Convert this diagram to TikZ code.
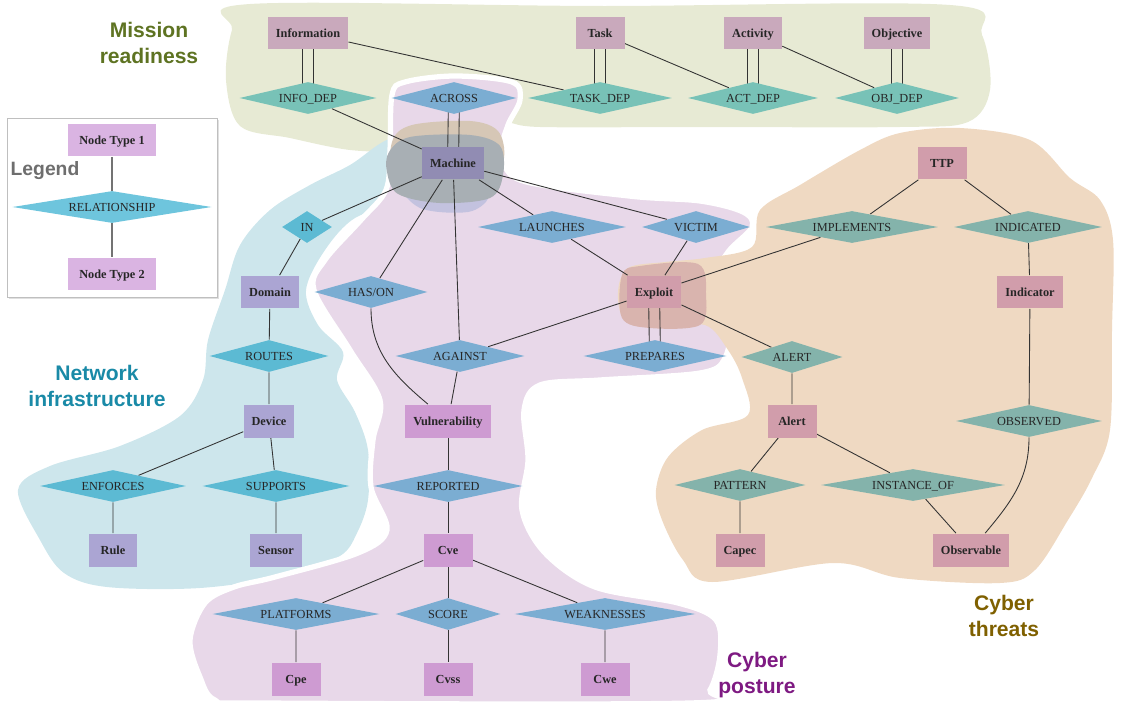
\documentclass[tikz,border=0pt]{standalone}
\usepackage{fontspec}
\setmainfont{Liberation Serif}
\newfontfamily\grouplabelfont{Liberation Sans}
\usetikzlibrary{shapes.geometric}
\definecolor[named]{MRBox}{HTML}{C9A9BC}
\definecolor[named]{MRRel}{HTML}{78C2B7}
\definecolor[named]{MRBg}{HTML}{E7EAD4}
\definecolor[named]{MRText}{HTML}{5E7322}
\definecolor[named]{NIBox}{HTML}{ABA5D3}
\definecolor[named]{NIRel}{HTML}{5CBAD3}
\definecolor[named]{NIBg}{HTML}{CDE6EC}
\definecolor[named]{NIText}{HTML}{1A8AA7}
\definecolor[named]{CPBox}{HTML}{CE9BD2}
\definecolor[named]{CPRel}{HTML}{7BADD2}
\definecolor[named]{CPBg}{HTML}{E8D8E9}
\definecolor[named]{CPText}{HTML}{7E1A82}
\definecolor[named]{CTBox}{HTML}{D19DAB}
\definecolor[named]{CTRel}{HTML}{84B3AB}
\definecolor[named]{CTBg}{HTML}{EFD9C2}
\definecolor[named]{CTText}{HTML}{7F6000}
\definecolor[named]{LegBox}{HTML}{DAB4E2}
\definecolor[named]{LegRel}{HTML}{6EC5DD}
\definecolor[named]{MixTan}{HTML}{D6C7B6}
\definecolor[named]{MixGray}{HTML}{A8AFB4}
\definecolor[named]{MixLav}{HTML}{C3C2DF}
\definecolor[named]{MixRed}{HTML}{D9B4AE}
\pgfdeclarelayer{blobs}
\pgfdeclarelayer{edges}
\pgfsetlayers{blobs,edges,main}
\newcommand{\blob}[2]{%
  \begin{pgfonlayer}{blobs}
    \fill[#1] plot[smooth cycle,tension=0.55] coordinates {#2};
  \end{pgfonlayer}
}
\newcommand{\dbllink}[2]{%
  \draw[link] ([xshift=-0.11cm]#1.center) -- ([xshift=-0.11cm]#2.center);
  \draw[link] ([xshift=+0.11cm]#1.center) -- ([xshift=+0.11cm]#2.center);
}
\tikzset{
  ent/.style={rectangle,minimum height=0.66cm,minimum width=0.98cm,
    inner xsep=0.16cm,text height=5.6pt,text depth=0pt,
    font=\fontsize{7}{8.4}\selectfont\bfseries,text=black!85},
  rel/.style={diamond,aspect=5,inner sep=0pt,minimum height=0.64cm,
    minimum width=#1,text height=5.6pt,text depth=0pt,
    font=\fontsize{7}{8.4}\selectfont,text=black!85},
  link/.style={draw=black!80,line width=0.5pt},
  grp/.style={font=\grouplabelfont\bfseries\fontsize{12}{14.7}\selectfont,align=center},
}

\begin{document}
\begin{tikzpicture}[x=0.02cm,y=-0.02cm]
  \useasboundingbox (0,0) rectangle (1125,706);

  % Regions {{{
  \blob{MRBg}{(250,4) (600,6) (950,5) (982,35) (990,90) (968,122) (900,127)
    (700,127) (540,127) (500,122) (440,135) (400,150) (350,150) (290,138)
    (240,126) (226,80) (232,30)}
  \blob{NIBg}{(392,138) (440,140) (480,170) (460,200) (400,205) (355,218)
    (325,250) (306,290) (318,325) (343,352) (337,380) (355,412) (368,450)
    (368,500) (357,533) (340,556) (290,575) (200,588) (107,587) (64,573)
    (40,540) (18,490) (50,466) (120,446) (180,416) (203,380) (208,340)
    (225,290) (240,245) (270,210) (310,185) (350,165)}
  \blob{CPBg,draw=white,line width=3pt}{(392,95) (405,82) (455,76) (512,82)
    (520,100) (508,125) (503,150) (520,180) (629,196) (700,201) (743,212)
    (752,227) (728,252) (715,280) (730,320) (725,358) (700,373) (600,380)
    (540,385) (524,410) (528,460) (522,510) (545,553) (595,587) (678,603)
    (716,620) (720,655) (710,690) (690,703) (260,703) (215,700) (200,677)
    (190,640) (205,603) (234,587) (275,577) (358,553) (387,530) (371,487)
    (373,440) (380,400) (350,350) (314,290) (325,260) (361,220) (386,190)
    (390,150)}
  \blob{CTBg}{(900,133) (960,128) (1030,140) (1070,178) (1100,200)
    (1113,240) (1112,330) (1110,430) (1092,478) (1068,520) (1035,570)
    (1000,583) (900,578) (833,563) (712,582) (683,560) (662,520) (656,490)
    (668,457) (702,430) (748,415) (742,378) (728,350) (705,325) (660,328)
    (625,320) (618,292) (628,268) (665,262) (705,258) (752,247) (760,210)
    (800,185) (860,150)}
  % overlaps
  \blob{MixTan}{(392,142) (412,125) (470,121) (498,131) (504,158) (490,185)
    (440,190) (395,180)}
  \blob{MixLav}{(394,180) (420,208) (468,212) (488,198) (470,188) (420,188)}
  \blob{MixGray}{(389,152) (410,137) (470,135) (500,146) (503,175) (490,198)
    (440,203) (398,194) (387,172)}
  \blob{MixRed}{(622,275) (640,266) (698,264) (706,295) (700,325)
    (650,328) (622,318)}
  % }}}

  % Legend {{{
  \begin{pgfonlayer}{blobs}
    \fill[black!12] (9,120) rectangle (219,299);
    \draw[black!25,fill=white] (7,118) rectangle (217,297);
  \end{pgfonlayer}
  \node[ent,fill=LegBox,minimum width=1.78cm] (nodetype1) at (112,140) {Node Type 1};
  \node[rel=3.98cm,fill=LegRel] (legrel) at (112,207) {RELATIONSHIP};
  \node[ent,fill=LegBox,minimum width=1.78cm] (nodetype2) at (112,274) {Node Type 2};
  \node[font=\grouplabelfont\bfseries\fontsize{11}{13}\selectfont,text=black!57]
    (legend) at (45,171) {Legend};
  % }}}

  % Mission readiness {{{
  \node[ent,fill=MRBox] (information) at (308,33) {Information};
  \node[ent,fill=MRBox] (task) at (600,33) {Task};
  \node[ent,fill=MRBox] (activity) at (753,33) {Activity};
  \node[ent,fill=MRBox] (objective) at (897,33) {Objective};
  \node[rel=2.74cm,fill=MRRel] (infodep) at (308,98) {INFO\_DEP};
  \node[rel=2.88cm,fill=MRRel] (taskdep) at (600,98) {TASK\_DEP};
  \node[rel=2.6cm,fill=MRRel] (actdep) at (753,98) {ACT\_DEP};
  \node[rel=2.48cm,fill=MRRel] (objdep) at (897,98) {OBJ\_DEP};
  % }}}

  % Network infrastructure {{{
  \node[ent,fill=NIBox!85!black] (machine) at (453,163) {Machine};
  \node[rel=1cm,aspect=1.5,fill=NIRel] (in) at (307,227) {IN};
  \node[ent,fill=NIBox] (domain) at (270,292) {Domain};
  \node[rel=2.38cm,fill=NIRel] (routes) at (269,356) {ROUTES};
  \node[ent,fill=NIBox] (device) at (269,421) {Device};
  \node[rel=2.92cm,fill=NIRel] (enforces) at (113,486) {ENFORCES};
  \node[rel=2.94cm,fill=NIRel] (supports) at (276,486) {SUPPORTS};
  \node[ent,fill=NIBox] (rule) at (113,550) {Rule};
  \node[ent,fill=NIBox] (sensor) at (276,550) {Sensor};
  % }}}

  % Cyber posture {{{
  \node[rel=2.5cm,fill=CPRel] (across) at (454,98) {ACROSS};
  \node[rel=2.96cm,fill=CPRel] (launches) at (552,227) {LAUNCHES};
  \node[rel=2.16cm,fill=CPRel] (victim) at (696,227) {VICTIM};
  \node[rel=2.26cm,fill=CPRel] (hason) at (371,292) {HAS/ON};
  \node[rel=2.58cm,fill=CPRel] (against) at (460,356) {AGAINST};
  \node[rel=2.86cm,fill=CPRel] (prepares) at (655,356) {PREPARES};
  \node[ent,fill=CPBox] (vulnerability) at (448,421) {Vulnerability};
  \node[rel=2.98cm,fill=CPRel] (reported) at (448,486) {REPORTED};
  \node[ent,fill=CPBox] (cve) at (448,550) {Cve};
  \node[rel=3.34cm,fill=CPRel] (platforms) at (296,614) {PLATFORMS};
  \node[rel=2.1cm,fill=CPRel] (score) at (448,614) {SCORE};
  \node[rel=3.62cm,fill=CPRel] (weaknesses) at (605,614) {WEAKNESSES};
  \node[ent,fill=CPBox] (cpe) at (296,679) {Cpe};
  \node[ent,fill=CPBox] (cvss) at (448,679) {Cvss};
  \node[ent,fill=CPBox] (cwe) at (605,679) {Cwe};
  % }}}

  % Cyber threats {{{
  \node[ent,fill=CTBox] (ttp) at (942,163) {TTP};
  \node[rel=3.44cm,fill=CTRel] (implements) at (852,227) {IMPLEMENTS};
  \node[rel=2.96cm,fill=CTRel] (indicated) at (1028,227) {INDICATED};
  \node[ent,fill=CTBox] (exploit) at (654,292) {Exploit};
  \node[ent,fill=CTBox] (indicator) at (1030,292) {Indicator};
  \node[rel=2.02cm,fill=CTRel] (alertrel) at (792,357) {ALERT};
  \node[ent,fill=CTBox] (alert) at (792,421) {Alert};
  \node[rel=2.92cm,fill=CTRel] (observed) at (1029,421) {OBSERVED};
  \node[rel=2.62cm,fill=CTRel] (pattern) at (740,485) {PATTERN};
  \node[rel=3.68cm,fill=CTRel] (instanceof) at (913,485) {INSTANCE\_OF};
  \node[ent,fill=CTBox] (capec) at (740,550) {Capec};
  \node[ent,fill=CTBox] (observable) at (971,550) {Observable};
  % }}}

  % Connectors {{{
  \begin{pgfonlayer}{edges}
    \draw[black!55,line width=1pt] (nodetype1) -- (legrel) -- (nodetype2);
    \dbllink{information}{infodep}
    \dbllink{task}{taskdep}
    \dbllink{activity}{actdep}
    \dbllink{objective}{objdep}
    \dbllink{across}{machine}
    \dbllink{exploit}{prepares}
    \draw[link] (information) -- (taskdep);
    \draw[link] (task) -- (actdep);
    \draw[link] (activity) -- (objdep);
    \draw[link] (infodep) -- (machine);
    \draw[link] (machine) -- (in) -- (domain) -- (routes) -- (device);
    \draw[link] (device) -- (enforces) -- (rule);
    \draw[link] (device) -- (supports) -- (sensor);
    \draw[link] (machine) -- (hason);
    \draw[link] (hason) to[out=-90,in=140] (vulnerability);
    \draw[link] (machine) -- (against) -- (vulnerability);
    \draw[link] (machine) -- (launches) -- (exploit);
    \draw[link] (machine) -- (victim) -- (exploit);
    \draw[link] (exploit) -- (against);
    \draw[link] (exploit) -- (implements) -- (ttp);
    \draw[link] (ttp) -- (indicated) -- (indicator) -- (observed);
    \draw[link] (observed) to[out=-90,in=50] (observable);
    \draw[link] (exploit) -- (alertrel) -- (alert);
    \draw[link] (alert) -- (pattern) -- (capec);
    \draw[link] (alert) -- (instanceof) -- (observable);
    \draw[link] (vulnerability) -- (reported) -- (cve);
    \draw[link] (cve) -- (platforms) -- (cpe);
    \draw[link] (cve) -- (score) -- (cvss);
    \draw[link] (cve) -- (weaknesses) -- (cwe);
  \end{pgfonlayer}
  % }}}

  % Group labels
  \node[grp,text=MRText] (mrlabel) at (149,43) {Mission\\readiness};
  \node[grp,text=NIText] (nilabel) at (97,386) {Network\\infrastructure};
  \node[grp,text=CPText] (cplabel) at (757,675) {Cyber\\posture};
  \node[grp,text=CTText] (ctlabel) at (1004,616) {Cyber\\threats};
\end{tikzpicture}
\end{document}
